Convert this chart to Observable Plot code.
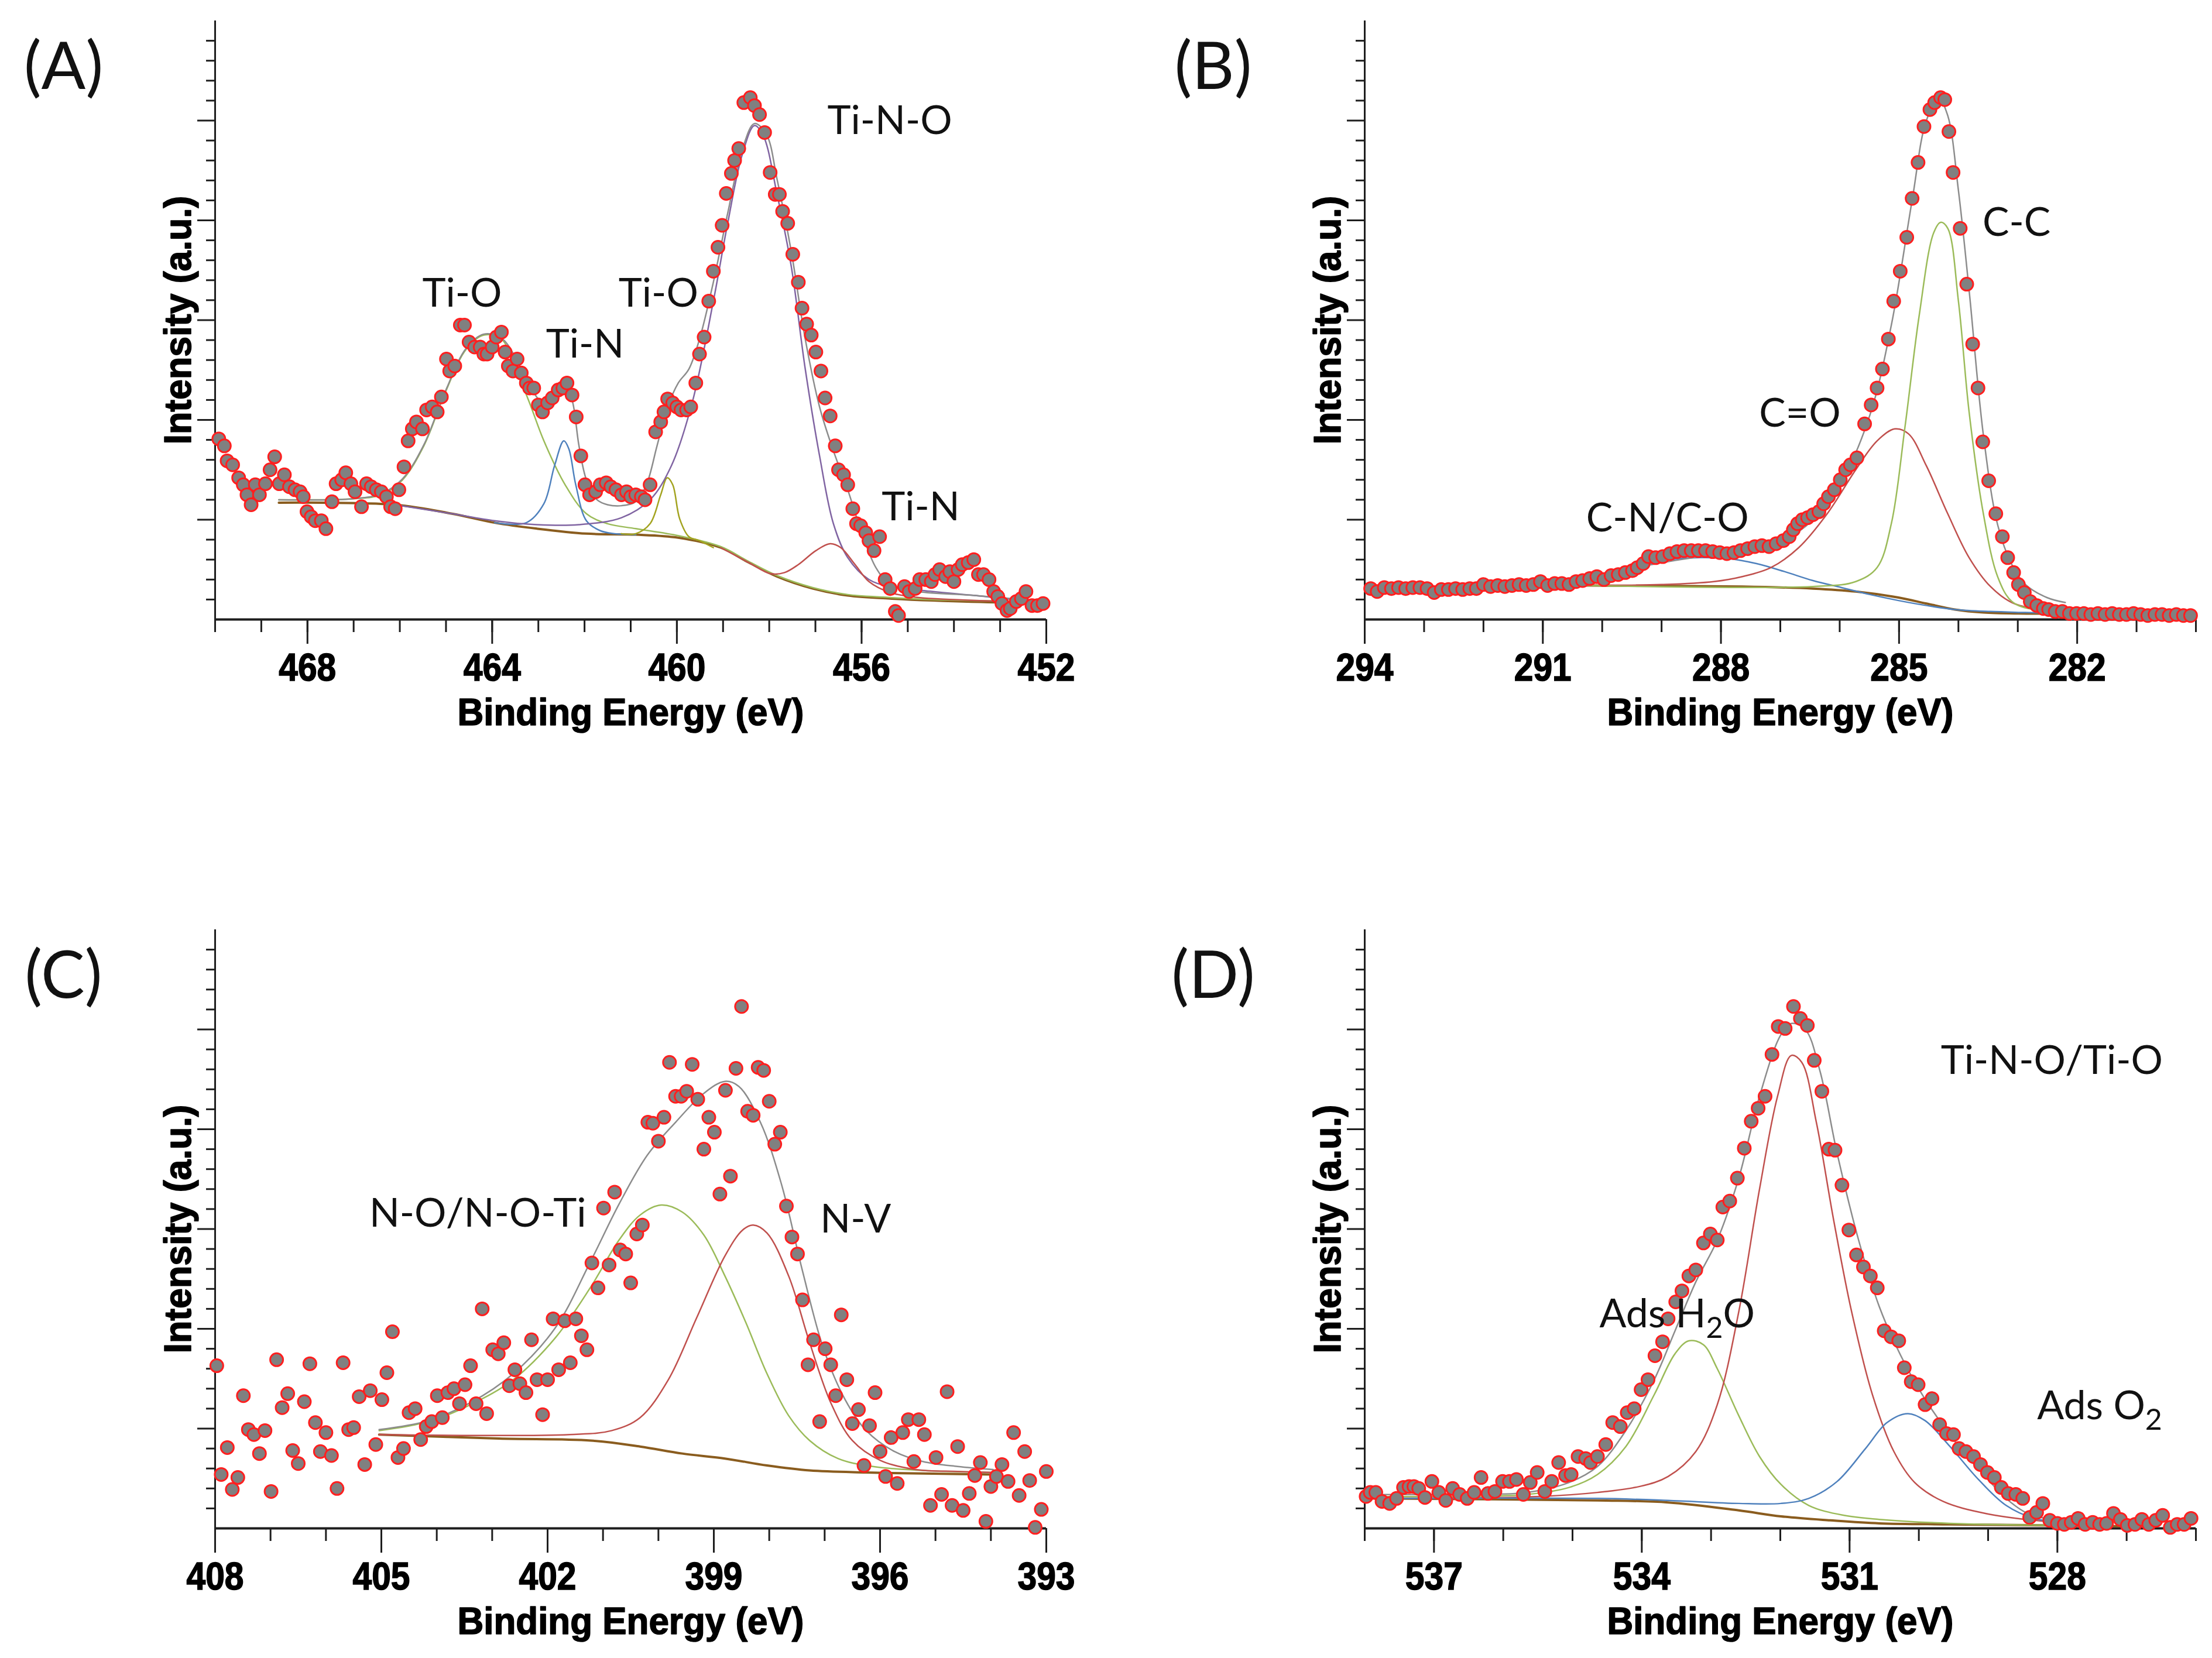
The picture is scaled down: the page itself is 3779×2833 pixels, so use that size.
<!DOCTYPE html>
<html>
<head>
<meta charset="utf-8">
<script src="https://cdn.jsdelivr.net/npm/d3@7"></script>
<script src="https://cdn.jsdelivr.net/npm/@observablehq/plot@0.6"></script>
<style>
  body { margin: 0; background: #fff; }
  #figure { position: relative; width: 3779px; height: 2833px; overflow: hidden; }
  .panel { position: absolute; }
</style>
</head>
<body>
<div id="figure"></div>
<script>
// ---- (A) Ti 2p ----
const aDomain = [470, 452];
const aTicks = d3.range(452, 471);
const aLabelled = [468, 464, 460, 456, 452];
const aPoints = [[469.92,1.81],[469.80,1.74],[469.74,1.59],[469.62,1.55],[469.49,1.42],[469.39,1.35],[469.31,1.25],[469.22,1.15],[469.13,1.35],[469.04,1.25],[468.91,1.36],[468.81,1.50],[468.71,1.63],[468.61,1.36],[468.50,1.45],[468.39,1.33],[468.27,1.30],[468.16,1.28],[468.09,1.23],[468.01,1.08],[467.92,1.03],[467.83,0.99],[467.70,0.99],[467.60,0.91],[467.47,1.18],[467.38,1.36],[467.26,1.40],[467.17,1.47],[467.06,1.36],[466.97,1.28],[466.83,1.13],[466.72,1.36],[466.62,1.33],[466.51,1.30],[466.40,1.28],[466.29,1.23],[466.20,1.13],[466.10,1.11],[466.02,1.30],[465.91,1.53],[465.82,1.79],[465.73,1.91],[465.64,1.98],[465.51,1.91],[465.42,2.10],[465.30,2.13],[465.19,2.08],[465.10,2.23],[464.99,2.61],[464.92,2.49],[464.81,2.54],[464.69,2.95],[464.60,2.95],[464.50,2.78],[464.38,2.73],[464.26,2.73],[464.18,2.66],[464.11,2.66],[464.00,2.73],[463.91,2.83],[463.80,2.88],[463.72,2.68],[463.65,2.54],[463.55,2.49],[463.46,2.61],[463.37,2.47],[463.26,2.37],[463.19,2.32],[463.10,2.32],[463.00,2.15],[462.91,2.08],[462.80,2.17],[462.70,2.22],[462.57,2.30],[462.47,2.32],[462.38,2.37],[462.27,2.25],[462.18,2.03],[462.08,1.64],[461.99,1.35],[461.89,1.25],[461.76,1.28],[461.66,1.35],[461.53,1.37],[461.43,1.33],[461.32,1.30],[461.20,1.25],[461.09,1.28],[461.00,1.23],[460.89,1.25],[460.77,1.23],[460.69,1.20],[460.58,1.35],[460.46,1.88],[460.35,1.98],[460.28,2.08],[460.20,2.21],[460.09,2.17],[460.00,2.13],[459.91,2.10],[459.79,2.10],[459.70,2.13],[459.59,2.37],[459.51,2.66],[459.41,2.83],[459.31,3.19],[459.21,3.49],[459.11,3.73],[459.02,3.95],[458.93,4.27],[458.82,4.47],[458.75,4.60],[458.66,4.72],[458.55,5.18],[458.41,5.23],[458.32,5.15],[458.21,5.06],[458.10,4.88],[457.98,4.48],[457.87,4.26],[457.78,4.26],[457.71,4.09],[457.60,3.97],[457.49,3.66],[457.37,3.38],[457.29,3.12],[457.19,2.96],[457.09,2.85],[456.99,2.68],[456.88,2.49],[456.79,2.22],[456.68,2.04],[456.57,1.74],[456.50,1.50],[456.39,1.45],[456.30,1.35],[456.19,1.11],[456.11,0.96],[456.02,0.94],[455.91,0.87],[455.84,0.79],[455.73,0.69],[455.61,0.83],[455.49,0.40],[455.38,0.31],[455.27,0.08],[455.20,0.04],[455.07,0.33],[454.97,0.28],[454.84,0.31],[454.74,0.40],[454.61,0.40],[454.49,0.38],[454.41,0.45],[454.31,0.50],[454.18,0.43],[454.09,0.48],[454.00,0.38],[453.91,0.50],[453.82,0.55],[453.69,0.57],[453.57,0.60],[453.47,0.45],[453.36,0.45],[453.24,0.40],[453.14,0.28],[453.05,0.23],[452.96,0.16],[452.85,0.09],[452.78,0.11],[452.65,0.18],[452.54,0.21],[452.44,0.28],[452.31,0.14],[452.19,0.14],[452.07,0.16]];
const aBackground = [[468.62,1.17],[466.10,1.15],[464.87,1.06],[463.95,0.97],[463.03,0.91],[461.96,0.86],[460.89,0.85],[459.97,0.82],[459.05,0.72],[458.44,0.57],[457.83,0.43],[457.06,0.31],[456.30,0.24],[455.38,0.21],[454.46,0.19],[452.93,0.17],[452.04,0.17]];
const aTiO464 = [[468.62,1.20],[467.01,1.21],[466.40,1.25],[465.94,1.40],[465.48,1.74],[465.02,2.27],[464.56,2.71],[464.18,2.85],[463.80,2.81],[463.49,2.51],[463.19,2.17],[462.88,1.79],[462.42,1.35],[461.96,1.06],[461.50,0.96],[460.89,0.91],[459.97,0.84],[459.05,0.73],[458.44,0.58],[457.83,0.44],[457.06,0.32],[456.30,0.25],[455.38,0.22],[454.46,0.20],[452.04,0.18]];
const aTiN462 = [[463.95,0.97],[463.26,0.97],[462.88,1.16],[462.65,1.54],[462.45,1.79],[462.34,1.71],[462.19,1.35],[461.96,0.99],[461.66,0.89],[461.35,0.86],[460.89,0.85]];
const aTiO460 = [[461.20,0.86],[460.89,0.86],[460.58,0.96],[460.35,1.25],[460.21,1.42],[460.09,1.35],[459.94,1.01],[459.74,0.83],[459.51,0.79],[459.21,0.72]];
const aTiNO = [[466.10,1.15],[464.87,1.06],[463.95,0.99],[463.03,0.95],[462.12,0.95],[461.20,1.02],[460.58,1.20],[460.12,1.54],[459.67,2.17],[459.21,3.19],[458.90,3.97],[458.59,4.65],[458.32,4.95],[458.13,4.85],[457.83,4.26],[457.52,3.53],[457.22,2.51],[456.91,1.64],[456.61,0.96],[456.30,0.62],[455.84,0.40],[455.38,0.33],[454.46,0.28],[453.54,0.24],[452.93,0.21],[452.04,0.18]];
const aTiN456 = [[459.05,0.72],[458.44,0.57],[457.98,0.46],[457.67,0.47],[457.37,0.55],[456.99,0.69],[456.68,0.76],[456.45,0.72],[456.14,0.55],[455.84,0.38],[455.38,0.27],[454.77,0.22],[454.00,0.20],[452.93,0.18]];
const aEnvelope = [[468.62,1.20],[467.01,1.21],[466.40,1.26],[465.94,1.41],[465.48,1.75],[465.02,2.28],[464.56,2.72],[464.18,2.86],[463.80,2.82],[463.49,2.62],[463.26,2.40],[462.88,2.17],[462.57,2.27],[462.42,2.34],[462.27,2.20],[462.12,1.74],[461.96,1.40],[461.73,1.20],[461.50,1.15],[461.20,1.14],[460.89,1.18],[460.66,1.35],[460.43,1.74],[460.20,2.13],[459.97,2.37],[459.74,2.51],[459.51,2.81],[459.21,3.38],[458.90,4.07],[458.59,4.70],[458.32,4.97],[458.06,4.86],[457.83,4.41],[457.52,3.68],[457.22,2.81],[456.91,2.13],[456.61,1.69],[456.30,1.30],[455.99,0.86],[455.69,0.52],[455.38,0.35],[454.77,0.28],[453.54,0.24],[452.04,0.18]];
const aLabels = [[464.65,3.26,"Ti-O"],[461.99,2.75,"Ti-N"],[460.40,3.26,"Ti-O"],[455.39,4.99,"Ti-N-O"],[454.72,1.12,"Ti-N"]];

// ---- (B) C 1s ----
const bDomain = [294, 280];
const bTicks = d3.range(280, 295);
const bLabelled = [294, 291, 288, 285, 282];
const bPoints = [[293.90,0.31],[293.79,0.28],[293.67,0.32],[293.55,0.31],[293.43,0.32],[293.31,0.31],[293.19,0.32],[293.07,0.32],[292.95,0.31],[292.83,0.27],[292.71,0.30],[292.59,0.30],[292.47,0.31],[292.35,0.30],[292.23,0.31],[292.12,0.31],[292.00,0.35],[291.88,0.33],[291.76,0.34],[291.64,0.33],[291.52,0.34],[291.40,0.35],[291.28,0.34],[291.16,0.35],[291.04,0.38],[290.92,0.34],[290.80,0.36],[290.68,0.36],[290.56,0.35],[290.44,0.38],[290.33,0.39],[290.21,0.41],[290.09,0.43],[289.97,0.40],[289.85,0.44],[289.73,0.45],[289.61,0.47],[289.49,0.49],[289.41,0.52],[289.31,0.56],[289.22,0.63],[289.10,0.62],[288.98,0.63],[288.86,0.66],[288.74,0.68],[288.62,0.69],[288.50,0.69],[288.38,0.69],[288.26,0.69],[288.14,0.68],[288.02,0.67],[287.90,0.66],[287.78,0.67],[287.67,0.69],[287.55,0.71],[287.43,0.73],[287.31,0.74],[287.19,0.73],[287.07,0.76],[286.95,0.79],[286.85,0.83],[286.78,0.90],[286.71,0.96],[286.63,1.00],[286.54,1.02],[286.45,1.05],[286.35,1.08],[286.27,1.16],[286.19,1.23],[286.09,1.30],[285.99,1.40],[285.90,1.50],[285.82,1.55],[285.71,1.62],[285.58,1.96],[285.47,2.15],[285.37,2.32],[285.28,2.51],[285.18,2.81],[285.09,3.19],[284.98,3.49],[284.87,3.83],[284.78,4.22],[284.68,4.58],[284.58,4.94],[284.48,5.11],[284.40,5.18],[284.30,5.23],[284.23,5.21],[284.16,4.89],[284.09,4.48],[283.97,3.92],[283.86,3.36],[283.76,2.76],[283.67,2.32],[283.59,1.78],[283.49,1.39],[283.37,1.06],[283.26,0.83],[283.17,0.62],[283.07,0.47],[282.99,0.35],[282.89,0.27],[282.79,0.18],[282.68,0.14],[282.57,0.11],[282.48,0.10],[282.37,0.08],[282.25,0.08],[282.13,0.06],[282.01,0.06],[281.89,0.06],[281.77,0.05],[281.65,0.06],[281.53,0.05],[281.41,0.06],[281.29,0.05],[281.17,0.05],[281.05,0.06],[280.93,0.05],[280.81,0.04],[280.69,0.05],[280.57,0.05],[280.45,0.04],[280.33,0.05],[280.21,0.04],[280.09,0.04]];
const bBackground = [[290.26,0.34],[287.64,0.33],[286.45,0.31],[285.73,0.28],[285.01,0.22],[284.54,0.16],[284.06,0.10],[283.58,0.07],[282.99,0.06],[282.20,0.06]];
const bCNCO = [[290.26,0.34],[289.79,0.43],[289.31,0.53],[288.83,0.60],[288.36,0.62],[287.88,0.61],[287.40,0.56],[286.93,0.48],[286.45,0.39],[285.97,0.32],[285.49,0.25],[285.01,0.19],[284.54,0.14],[284.06,0.10],[283.46,0.08],[282.87,0.07],[282.20,0.06]];
const bCO = [[290.26,0.34],[289.00,0.35],[288.12,0.38],[287.64,0.43],[287.16,0.52],[286.69,0.72],[286.21,1.06],[285.73,1.50],[285.37,1.79],[285.07,1.91],[284.84,1.86],[284.54,1.54],[284.18,1.06],[283.82,0.62],[283.46,0.33],[283.10,0.17],[282.56,0.09],[282.20,0.07]];
const bCC = [[290.26,0.34],[286.45,0.33],[285.73,0.38],[285.37,0.52],[285.13,0.96],[284.90,1.93],[284.66,3.05],[284.42,3.87],[284.30,3.98],[284.18,3.92],[284.00,3.19],[283.82,2.08],[283.58,1.06],[283.34,0.43],[283.10,0.18],[282.75,0.10],[282.20,0.07]];
const bEnvelope = [[290.26,0.35],[289.31,0.53],[288.36,0.63],[287.64,0.70],[286.93,0.80],[286.45,1.00],[285.97,1.38],[285.49,2.05],[285.13,2.95],[284.78,4.20],[284.54,5.00],[284.33,5.22],[284.18,5.05],[284.00,4.30],[283.82,3.30],[283.58,1.85],[283.34,0.95],[283.10,0.55],[282.87,0.35],[282.51,0.22],[282.20,0.17]];
const bLabels = [[283.02,3.97,"C-C"],[286.67,2.06,"C=O"],[288.90,1.01,"C-N/C-O"]];

// ---- (C) N 1s ----
const cDomain = [408, 393];
const cTicks = d3.range(393, 409);
const cLabelled = [408, 405, 402, 399, 396, 393];
const cPoints = [[407.97,1.63],[407.89,0.54],[407.78,0.81],[407.69,0.39],[407.59,0.51],[407.49,1.33],[407.40,0.99],[407.30,0.94],[407.20,0.75],[407.10,0.98],[406.99,0.37],[406.89,1.69],[406.79,1.21],[406.69,1.35],[406.60,0.78],[406.50,0.65],[406.39,1.27],[406.29,1.65],[406.19,1.06],[406.10,0.77],[406.00,0.96],[405.90,0.73],[405.80,0.40],[405.69,1.66],[405.59,0.99],[405.50,1.01],[405.40,1.32],[405.30,0.64],[405.20,1.38],[405.10,0.84],[404.99,1.29],[404.90,1.56],[404.80,1.97],[404.70,0.71],[404.60,0.80],[404.50,1.16],[404.39,1.20],[404.29,0.89],[404.19,1.02],[404.09,1.07],[403.99,1.33],[403.90,1.11],[403.80,1.36],[403.69,1.40],[403.59,1.25],[403.49,1.44],[403.39,1.63],[403.29,1.25],[403.18,2.20],[403.10,1.15],[402.99,1.79],[402.89,1.75],[402.79,1.86],[402.69,1.43],[402.59,1.59],[402.50,1.45],[402.39,1.36],[402.29,1.89],[402.19,1.49],[402.09,1.14],[402.00,1.49],[401.90,2.10],[401.80,1.59],[401.69,2.08],[401.59,1.66],[401.49,2.10],[401.39,1.93],[401.29,1.79],[401.20,2.66],[401.09,2.41],[400.99,3.21],[400.89,2.64],[400.79,3.37],[400.69,2.79],[400.59,2.75],[400.50,2.46],[400.39,2.95],[400.29,3.04],[400.19,4.07],[400.10,4.06],[400.00,3.88],[399.90,4.12],[399.80,4.67],[399.69,4.33],[399.59,4.33],[399.49,4.38],[399.39,4.65],[399.29,4.30],[399.18,3.80],[399.09,4.12],[398.99,3.97],[398.89,3.35],[398.79,4.39],[398.70,3.53],[398.60,4.61],[398.50,5.23],[398.39,4.18],[398.29,4.14],[398.20,4.62],[398.10,4.59],[398.00,4.28],[397.90,3.85],[397.80,3.97],[397.69,3.23],[397.59,2.92],[397.49,2.75],[397.40,2.29],[397.30,1.64],[397.20,1.89],[397.09,1.07],[396.99,1.80],[396.89,1.64],[396.80,1.33],[396.70,2.14],[396.60,1.49],[396.50,1.05],[396.39,1.19],[396.29,0.63],[396.19,1.03],[396.09,1.36],[396.00,0.77],[395.90,0.52],[395.80,0.91],[395.69,0.45],[395.59,0.96],[395.49,1.09],[395.39,0.67],[395.30,1.09],[395.20,0.94],[395.09,0.23],[394.99,0.71],[394.89,0.34],[394.79,1.37],[394.70,0.23],[394.60,0.82],[394.50,0.18],[394.39,0.35],[394.29,0.53],[394.19,0.66],[394.09,0.07],[394.00,0.42],[393.90,0.52],[393.80,0.64],[393.69,0.47],[393.59,0.96],[393.49,0.33],[393.39,0.77],[393.30,0.48],[393.20,0.01],[393.09,0.19],[393.00,0.57]];
const cBackground = [[405.04,0.94],[402.88,0.90],[401.22,0.88],[400.33,0.82],[399.57,0.75],[398.80,0.70],[398.04,0.63],[397.27,0.58],[396.25,0.56],[395.23,0.55],[393.96,0.54]];
const cNO = [[405.04,0.98],[404.15,1.07],[403.39,1.24],[402.62,1.49],[401.86,1.91],[401.22,2.42],[400.71,2.89],[400.33,3.14],[399.95,3.24],[399.57,3.17],[399.18,2.94],[398.80,2.53],[398.42,2.06],[398.04,1.55],[397.65,1.13],[397.27,0.88],[396.76,0.70],[396.13,0.62],[395.23,0.58],[393.96,0.56]];
const cNV = [[405.04,0.94],[401.60,0.94],[400.84,0.98],[400.33,1.11],[399.82,1.49],[399.31,2.11],[398.80,2.73],[398.48,2.99],[398.29,3.04],[398.04,2.96],[397.65,2.53],[397.27,1.86],[396.89,1.26],[396.50,0.88],[395.99,0.68],[395.36,0.59],[394.60,0.57],[393.96,0.56]];
const cEnvelope = [[405.04,0.99],[404.15,1.08],[403.39,1.26],[402.62,1.55],[401.86,2.01],[401.22,2.68],[400.71,3.25],[400.20,3.74],[399.69,4.07],[399.18,4.36],[398.80,4.48],[398.55,4.43],[398.16,4.07],[397.78,3.45],[397.40,2.58],[397.02,1.80],[396.63,1.29],[396.25,0.98],[395.74,0.77],[395.23,0.67],[394.60,0.62],[393.96,0.59]];
const cLabels = [[403.26,3.15,"N-O/N-O-Ti"],[396.44,3.09,"N-V"]];

// ---- (D) O 1s ----
const dDomain = [538, 526];
const dTicks = d3.range(526, 539);
const dLabelled = [537, 534, 531, 528];
const dPoints = [[537.98,0.32],[537.92,0.36],[537.84,0.36],[537.75,0.27],[537.64,0.25],[537.54,0.30],[537.44,0.41],[537.36,0.42],[537.29,0.42],[537.22,0.40],[537.13,0.31],[537.03,0.47],[536.93,0.36],[536.83,0.28],[536.73,0.40],[536.63,0.34],[536.52,0.30],[536.42,0.36],[536.32,0.51],[536.22,0.35],[536.12,0.37],[536.01,0.47],[535.91,0.47],[535.81,0.49],[535.71,0.34],[535.61,0.46],[535.51,0.56],[535.40,0.37],[535.30,0.47],[535.20,0.66],[535.10,0.53],[535.02,0.54],[534.92,0.72],[534.81,0.70],[534.74,0.66],[534.64,0.72],[534.52,0.84],[534.42,1.06],[534.31,1.02],[534.21,1.16],[534.11,1.20],[534.01,1.39],[533.91,1.49],[533.81,1.73],[533.70,1.87],[533.62,2.10],[533.51,2.27],[533.42,2.38],[533.32,2.53],[533.22,2.59],[533.11,2.86],[533.01,2.95],[532.91,2.89],[532.83,3.22],[532.73,3.28],[532.62,3.51],[532.52,3.81],[532.42,4.08],[532.32,4.21],[532.22,4.33],[532.12,4.75],[532.03,5.03],[531.93,5.01],[531.81,5.23],[531.71,5.11],[531.61,5.04],[531.51,4.69],[531.40,4.38],[531.30,3.80],[531.21,3.79],[531.11,3.44],[531.01,2.99],[530.90,2.74],[530.80,2.62],[530.70,2.53],[530.60,2.41],[530.50,1.98],[530.40,1.92],[530.29,1.88],[530.21,1.61],[530.11,1.47],[530.01,1.44],[529.91,1.24],[529.81,1.30],[529.70,1.04],[529.60,0.95],[529.50,0.94],[529.42,0.80],[529.32,0.77],[529.21,0.72],[529.11,0.64],[529.01,0.56],[528.91,0.51],[528.81,0.41],[528.71,0.35],[528.60,0.34],[528.50,0.30],[528.40,0.11],[528.30,0.16],[528.21,0.25],[528.11,0.08],[528.00,0.05],[527.90,0.04],[527.80,0.06],[527.70,0.10],[527.60,0.04],[527.49,0.06],[527.39,0.04],[527.29,0.05],[527.19,0.15],[527.09,0.09],[526.99,0.03],[526.88,0.04],[526.78,0.09],[526.68,0.04],[526.58,0.08],[526.48,0.13],[526.37,0.01],[526.27,0.04],[526.17,0.04],[526.07,0.10]];
const dBackground = [[537.98,0.30],[534.64,0.28],[533.62,0.26],[532.60,0.18],[531.99,0.12],[531.28,0.08],[530.57,0.05],[529.55,0.04],[528.02,0.03],[527.01,0.02]];
const dH2O = [[537.98,0.32],[536.68,0.32],[535.66,0.34],[535.05,0.41],[534.64,0.54],[534.23,0.82],[533.82,1.34],[533.52,1.75],[533.32,1.88],[533.11,1.84],[532.91,1.60],[532.60,1.13],[532.30,0.72],[531.99,0.44],[531.59,0.23],[531.08,0.13],[530.57,0.09],[529.55,0.05],[528.02,0.03]];
const dTiNO = [[537.98,0.30],[535.46,0.32],[534.64,0.36],[534.03,0.42],[533.62,0.52],[533.22,0.77],[532.91,1.24],[532.60,2.17],[532.30,3.40],[532.04,4.33],[531.84,4.74],[531.69,4.67],[531.48,4.07],[531.23,3.09],[530.97,2.17],[530.67,1.34],[530.36,0.77],[530.06,0.46],[529.65,0.27],[529.04,0.15],[528.33,0.08],[527.52,0.04]];
const dO2 = [[537.98,0.30],[534.64,0.30],[533.62,0.28],[532.60,0.25],[531.99,0.25],[531.59,0.30],[531.18,0.47],[530.77,0.80],[530.46,1.06],[530.16,1.15],[529.91,1.08],[529.55,0.82],[529.14,0.49],[528.74,0.23],[528.33,0.10],[527.52,0.04]];
const dEnvelope = [[537.98,0.34],[536.68,0.34],[535.66,0.36],[535.05,0.46],[534.64,0.62],[534.23,0.98],[533.82,1.49],[533.52,1.98],[533.22,2.47],[532.91,2.89],[532.60,3.51],[532.30,4.33],[531.99,4.95],[531.84,5.06],[531.64,5.00],[531.43,4.59],[531.18,3.76],[530.87,2.89],[530.57,2.22],[530.26,1.73],[529.95,1.34],[529.65,1.03],[529.34,0.75],[529.04,0.52],[528.74,0.30],[528.43,0.15],[528.02,0.08],[527.52,0.04]];
const dLabels = [[528.08,4.68,"Ti-N-O/Ti-O"],[533.49,2.14,"Ads H2O"],[527.39,1.22,"Ads O2"]];

// ---- shared look ----
const ink = "#1e1e1e";
const green = "#9bbb59", red = "#c0504d", blue = "#4f81bd", purple = "#8064a2", olive = "#a3a320";
const envelopeColor = "#8c8c8c", backgroundColor = "#8a5c1e";
const axisFont = '"Liberation Sans", Arial, sans-serif';
const humanist = 'Lato, "Open Sans", "Noto Sans", sans-serif';
const xTitle = "Binding Energy (eV)";
const yTitle = "Intensity (a.u.)";
const yMinor = d3.range(1, 30).filter(i => i % 5 !== 0).map(i => i / 5);
const yMajor = [1, 2, 3, 4, 5];

function panel({letter, domain, ticks, labelled, points, background, fits, envelope, labels}) {
  const line = (data, stroke, strokeWidth = 2.5) =>
    Plot.line(data, {x: d => d[0], y: d => d[1], stroke, strokeWidth, curve: "catmull-rom"});
  const heavy = {fontWeight: "bold", fontFamily: axisFont, fill: "#000", stroke: "#000", strokeWidth: 1.6};
  return Plot.plot({
    width: 1815,
    height: 1280,
    marginLeft: 367,
    marginRight: 28,
    marginTop: 35,
    marginBottom: 222,
    x: {domain},
    y: {domain: [0, 6]},
    style: {background: "transparent", overflow: "visible", fontFamily: humanist},
    marks: [
      Plot.axisY({ticks: yMinor, tickSize: 15, tickFormat: () => "", label: null, stroke: ink, strokeWidth: 3}),
      Plot.axisY({ticks: yMajor, tickSize: 30, tickFormat: () => "", label: null, stroke: ink, strokeWidth: 3}),
      Plot.axisX({ticks, tickSize: 22, tickFormat: () => "", label: null, stroke: ink, strokeWidth: 3}),
      Plot.axisX({ticks: labelled, tickSize: 42, tickPadding: 16, label: null, stroke: ink, strokeWidth: 3,
        fill: "#000", fontSize: 66, fontWeight: "bold", fontFamily: axisFont}),
      Plot.ruleX([domain[0]], {y1: 0, y2: 6, stroke: ink, strokeWidth: 3}),
      Plot.ruleY([0], {stroke: ink, strokeWidth: 4}),
      line(background, backgroundColor, 4),
      ...fits.map(([data, color]) => line(data, color)),
      line(envelope, envelopeColor),
      Plot.dot(points, {x: d => d[0], y: d => d[1], r: 11, fill: "#808080", stroke: "#ff1f1f", strokeWidth: 3}),
      Plot.text(labels, {x: d => d[0], y: d => d[1], text: d => d[2], fontSize: 68, fontFamily: humanist, fill: "#111"}),
      Plot.text([letter], {frameAnchor: "top-left", dx: -259, dy: 81, textAnchor: "middle", lineAnchor: "middle",
        fontSize: 112, fontFamily: humanist, fill: "#111"}),
      Plot.text([xTitle], {frameAnchor: "bottom", dy: 160, textAnchor: "middle", lineAnchor: "middle",
        fontSize: 64, ...heavy}),
      Plot.text([yTitle], {frameAnchor: "left", dx: -62, rotate: -90, textAnchor: "middle", lineAnchor: "middle",
        fontSize: 64, ...heavy})
    ]
  });
}

const figure = document.getElementById("figure");
const panels = [
  [0, 0, {letter: "(A)", domain: aDomain, ticks: aTicks, labelled: aLabelled, points: aPoints, background: aBackground,
    fits: [[aTiO464, green], [aTiN462, blue], [aTiO460, olive], [aTiNO, purple], [aTiN456, red]],
    envelope: aEnvelope, labels: aLabels}],
  [1964, 0, {letter: "(B)", domain: bDomain, ticks: bTicks, labelled: bLabelled, points: bPoints, background: bBackground,
    fits: [[bCNCO, blue], [bCO, red], [bCC, green]], envelope: bEnvelope, labels: bLabels}],
  [0, 1553, {letter: "(C)", domain: cDomain, ticks: cTicks, labelled: cLabelled, points: cPoints, background: cBackground,
    fits: [[cNO, green], [cNV, red]], envelope: cEnvelope, labels: cLabels}],
  [1964, 1553, {letter: "(D)", domain: dDomain, ticks: dTicks, labelled: dLabelled, points: dPoints, background: dBackground,
    fits: [[dH2O, green], [dTiNO, red], [dO2, blue]], envelope: dEnvelope, labels: dLabels}]
];
for (const [left, top, options] of panels) {
  const holder = document.createElement("div");
  holder.className = "panel";
  holder.style.left = left + "px";
  holder.style.top = top + "px";
  holder.appendChild(panel(options));
  figure.appendChild(holder);
}

// the original uses a narrow heavy face: squeeze the axis texts to its widths
d3.selectAll("#figure text").each(function () {
  const t = this.textContent;
  const el = d3.select(this);
  if (/^\d{3}$/.test(t)) el.attr("textLength", 98).attr("lengthAdjust", "spacingAndGlyphs")
    .attr("stroke", "#000").attr("stroke-width", 1.6);
  else if (t === xTitle) el.attr("textLength", 592).attr("lengthAdjust", "spacingAndGlyphs");
  else if (t === yTitle) el.attr("textLength", 425).attr("lengthAdjust", "spacingAndGlyphs");
  else if (t === "Ads H2O" || t === "Ads O2") {
    el.text(null);
    el.append("tspan").text(t === "Ads H2O" ? "Ads H" : "Ads O");
    el.append("tspan").attr("dy", 18).attr("font-size", 50).text("2");
    if (t === "Ads H2O") el.append("tspan").attr("dy", -18).text("O");
  }
});
</script>
</body>
</html>
